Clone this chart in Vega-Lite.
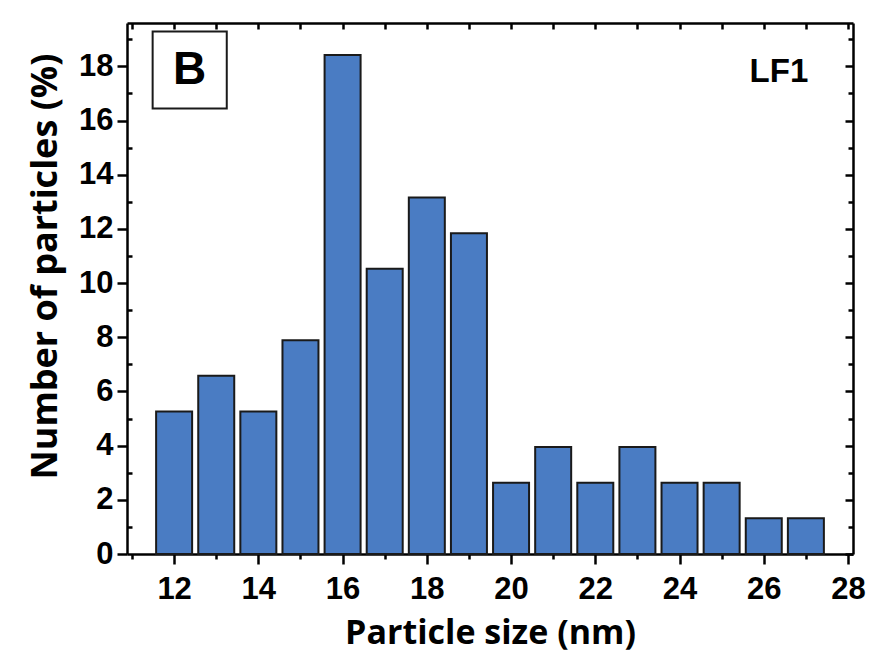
{
  "$schema": "https://vega.github.io/schema/vega-lite/v6.json",
  "width": 726,
  "height": 531,
  "autosize": "none",
  "padding": {"left": 127, "top": 23, "right": 29, "bottom": 108},
  "background": "white",
  "config": {
    "view": {"stroke": null},
    "axis": {
      "domainColor": "black",
      "domainWidth": 2.5,
      "tickColor": "black",
      "tickWidth": 2.5,
      "grid": false,
      "labelFont": "Liberation Sans",
      "labelFontWeight": "bold",
      "labelFontSize": 31,
      "labelColor": "black",
      "titleFont": "Open Sans",
      "titleFontWeight": "bold",
      "titleFontSize": 34,
      "titleColor": "black"
    }
  },
  "layer": [
    {
      "data": {"values": [
        {"size": 12, "pct": 5.26},
        {"size": 13, "pct": 6.58},
        {"size": 14, "pct": 5.26},
        {"size": 15, "pct": 7.89},
        {"size": 16, "pct": 18.42},
        {"size": 17, "pct": 10.53},
        {"size": 18, "pct": 13.16},
        {"size": 19, "pct": 11.84},
        {"size": 20, "pct": 2.63},
        {"size": 21, "pct": 3.95},
        {"size": 22, "pct": 2.63},
        {"size": 23, "pct": 3.95},
        {"size": 24, "pct": 2.63},
        {"size": 25, "pct": 2.63},
        {"size": 26, "pct": 1.32},
        {"size": 27, "pct": 1.32}
      ]},
      "mark": {"type": "bar", "size": 36, "fill": "#4a7cc3", "stroke": "#1a1a1a", "strokeWidth": 2},
      "encoding": {
        "x": {
          "field": "size", "type": "quantitative",
          "scale": {"domain": [11, 28], "nice": false, "zero": false},
          "axis": {
            "orient": "bottom",
            "title": "Particle size (nm)",
            "values": [11,12,13,14,15,16,17,18,19,20,21,22,23,24,25,26,27,28],
            "labelExpr": "datum.value % 2 === 0 ? datum.label : ''",
            "tickSize": {"condition": {"test": "datum.value % 2 === 0", "value": 10}, "value": 5},
            "labelPadding": 10,
            "titlePadding": 12,
            "labelFlush": false,
            "labelOverlap": false
          }
        },
        "y": {
          "field": "pct", "type": "quantitative",
          "scale": {"domain": [0, 19.6], "nice": false},
          "axis": {
            "orient": "left",
            "title": "Number of particles (%)",
            "titleFontSize": 36,
            "titleY": 243,
            "values": [0,1,2,3,4,5,6,7,8,9,10,11,12,13,14,15,16,17,18,19],
            "labelExpr": "datum.value % 2 === 0 ? datum.label : ''",
            "tickSize": {"condition": {"test": "datum.value % 2 === 0", "value": 10}, "value": -5},
            "labelPadding": 4,
            "titlePadding": 14,
            "labelFlush": false,
            "labelOverlap": false
          }
        }
      }
    },
    {
      "data": {"values": [{"x1": 11.49, "x2": 13.25, "y1": 16.44, "y2": 19.29}]},
      "mark": {"type": "rect", "fill": "white", "stroke": "#1a1a1a", "strokeWidth": 2},
      "encoding": {
        "x": {"field": "x1", "type": "quantitative", "axis": {
          "orient": "top", "title": null, "labels": false,
          "values": [11,12,13,14,15,16,17,18,19,20,21,22,23,24,25,26,27,28],
          "tickSize": -6
        }},
        "x2": {"field": "x2"},
        "y": {"field": "y1", "type": "quantitative", "axis": {
          "orient": "right", "title": null, "labels": false,
          "values": [0,1,2,3,4,5,6,7,8,9,10,11,12,13,14,15,16,17,18,19],
          "tickSize": {"condition": {"test": "datum.value % 2 === 0", "value": -8}, "value": -5}
        }},
        "y2": {"field": "y2"}
      }
    },
    {
      "data": {"values": [
        {"x": 12.37, "y": 17.86, "label": "B", "fs": 46},
        {"x": 26.36, "y": 17.8, "label": "LF1", "fs": 33}
      ]},
      "mark": {"type": "text", "font": "Liberation Sans", "fontWeight": "bold", "color": "black", "align": "center", "baseline": "middle"},
      "encoding": {
        "x": {"field": "x", "type": "quantitative", "axis": null},
        "y": {"field": "y", "type": "quantitative", "axis": null},
        "text": {"field": "label"},
        "size": {"field": "fs", "type": "quantitative", "scale": null, "legend": null}
      }
    }
  ],
  "resolve": {"axis": {"x": "independent", "y": "independent"}}
}
